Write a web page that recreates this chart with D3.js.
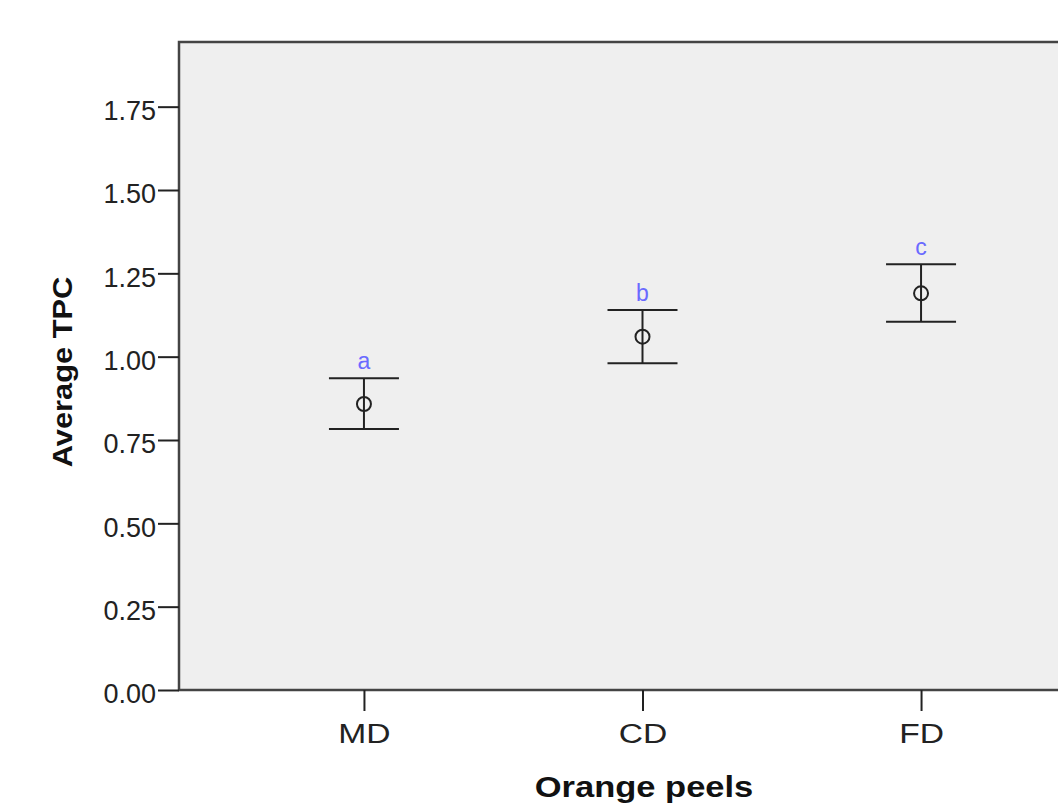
<!DOCTYPE html>
<html>
<head>
<meta charset="utf-8">
<script src="https://cdn.jsdelivr.net/npm/d3@7"></script>
<style>
  body { margin: 0; background: #fff; }
  text { font-family: "Liberation Sans", Arial, sans-serif; }
</style>
</head>
<body>
<div id="chart"></div>
<script>
// data
var peels = ["MD", "CD", "FD"];
var meanTPC = [0.858, 1.06, 1.19];
var lowerTPC = [0.783, 0.98, 1.105];
var upperTPC = [0.935, 1.14, 1.277];
var groupLetters = ["a", "b", "c"];
var yTicks = [0, 0.25, 0.5, 0.75, 1.0, 1.25, 1.5, 1.75];

var svgWidth = 1058;
var svgHeight = 803;

var margin = { top: 42, left: 179 };
var width = 927;   // plot area runs past the right edge
var height = 648;

var svg = d3.select("#chart")
  .append("svg")
  .attr("width", svgWidth)
  .attr("height", svgHeight);

var chartGroup = svg.append("g")
  .attr("transform", `translate(${margin.left}, ${margin.top})`);

var xScale = d3.scalePoint()
  .domain(peels)
  .range([0, width])
  .padding(0.664);

var yScale = d3.scaleLinear()
  .domain([0, 1.944])
  .range([height, 0]);

// plot background + frame
chartGroup.append("rect")
  .attr("x", 0)
  .attr("y", 0)
  .attr("width", width)
  .attr("height", height)
  .attr("fill", "#efefef")
  .attr("stroke", "#444")
  .attr("stroke-width", 2.5);

// axes
var leftAxis = d3.axisLeft(yScale)
  .tickValues(yTicks)
  .tickFormat(d3.format(".2f"))
  .tickSize(21)
  .tickPadding(2);

var yAxisG = chartGroup.append("g").call(leftAxis);
yAxisG.select(".domain").remove();
yAxisG.selectAll(".tick line").attr("stroke", "#222").attr("stroke-width", 2);
yAxisG.selectAll(".tick text")
  .attr("font-size", "27px")
  .attr("fill", "#222")
  .attr("dy", "0.47em")
  .style("font-family", "'Liberation Sans', Arial, sans-serif");

var bottomAxis = d3.axisBottom(xScale)
  .tickSize(21)
  .tickPadding(12);

var xAxisG = chartGroup.append("g")
  .attr("transform", `translate(0, ${height})`)
  .call(bottomAxis);
xAxisG.select(".domain").remove();
xAxisG.selectAll(".tick line").attr("stroke", "#222").attr("stroke-width", 2);
xAxisG.selectAll(".tick text")
  .attr("font-size", "28px")
  .attr("fill", "#222")
  .attr("transform", "scale(1.2,1)")
  .style("font-family", "'Liberation Sans', Arial, sans-serif");

// error bars
var rows = peels.map(function(p, i) {
  return { peel: p, mean: meanTPC[i], lo: lowerTPC[i], hi: upperTPC[i], letter: groupLetters[i] };
});

var bars = chartGroup.selectAll(".errbar")
  .data(rows)
  .enter()
  .append("g")
  .attr("class", "errbar");

bars.append("line")
  .attr("x1", d => xScale(d.peel))
  .attr("x2", d => xScale(d.peel))
  .attr("y1", d => yScale(d.lo))
  .attr("y2", d => yScale(d.hi))
  .attr("stroke", "#222")
  .attr("stroke-width", 2);

bars.append("line")
  .attr("x1", d => xScale(d.peel) - 35)
  .attr("x2", d => xScale(d.peel) + 35)
  .attr("y1", d => yScale(d.hi))
  .attr("y2", d => yScale(d.hi))
  .attr("stroke", "#222")
  .attr("stroke-width", 2);

bars.append("line")
  .attr("x1", d => xScale(d.peel) - 35)
  .attr("x2", d => xScale(d.peel) + 35)
  .attr("y1", d => yScale(d.lo))
  .attr("y2", d => yScale(d.lo))
  .attr("stroke", "#222")
  .attr("stroke-width", 2);

bars.append("circle")
  .attr("cx", d => xScale(d.peel))
  .attr("cy", d => yScale(d.mean))
  .attr("r", 7)
  .attr("fill", "none")
  .attr("stroke", "#222")
  .attr("stroke-width", 2);

// significance letters
bars.append("text")
  .attr("x", d => xScale(d.peel))
  .attr("y", d => yScale(d.hi) - 9)
  .attr("text-anchor", "middle")
  .attr("font-size", "23px")
  .attr("fill", "#6a6aff")
  .text(d => d.letter);

// axis titles
svg.append("text")
  .attr("transform", "translate(72, 372) rotate(-90) scale(1.1,1)")
  .attr("text-anchor", "middle")
  .attr("font-size", "28px")
  .attr("font-weight", "bold")
  .attr("fill", "#111")
  .text("Average TPC");

svg.append("text")
  .attr("transform", "translate(644, 797) scale(1.15,1)")
  .attr("text-anchor", "middle")
  .attr("font-size", "30px")
  .attr("font-weight", "bold")
  .attr("fill", "#111")
  .text("Orange peels");
</script>
</body>
</html>
